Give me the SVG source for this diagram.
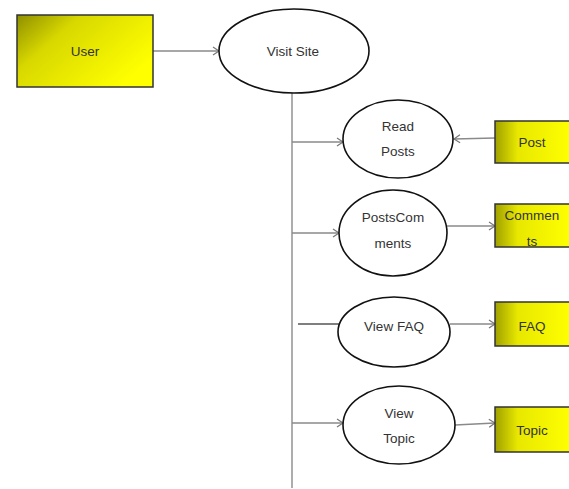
<svg xmlns="http://www.w3.org/2000/svg" width="569" height="489" viewBox="0 0 569 489">
<style>
.ell{fill:#fff;stroke:#111;stroke-width:1.6}
.box{stroke:#333;stroke-width:1.5}
.t{font-family:"Liberation Sans",Arial,sans-serif;font-size:13.5px;fill:#333;text-anchor:middle}
.c{stroke:#8a8a8a;stroke-width:1.4;fill:none}
</style>
<defs>
<linearGradient id="g1" x1="0" y1="0" x2="1" y2="0.6">
<stop offset="0" stop-color="#8f8f00"/>
<stop offset="0.35" stop-color="#d8d800"/>
<stop offset="1" stop-color="#ffff00"/>
</linearGradient>
<linearGradient id="g2" x1="0" y1="0" x2="1" y2="0">
<stop offset="0" stop-color="#a0a000"/>
<stop offset="0.3" stop-color="#e8e800"/>
<stop offset="1" stop-color="#ffff00"/>
</linearGradient>
<marker id="a" markerWidth="10" markerHeight="10" refX="8" refY="5" orient="auto" markerUnits="userSpaceOnUse">
<path d="M2,1 L8,5 L2,9" fill="none" stroke="#777" stroke-width="1.2"/>
</marker>
<clipPath id="cc"><rect x="495" y="204" width="74" height="43"/></clipPath>
</defs>
<g id="connectors">
<line class="c" x1="153" y1="51" x2="219" y2="51" marker-end="url(#a)"/>
<line class="c" x1="292" y1="93" x2="292" y2="488"/>
<line class="c" x1="292" y1="142" x2="343" y2="142" marker-end="url(#a)"/>
<line class="c" x1="495" y1="138" x2="454" y2="139" marker-end="url(#a)"/>
<line class="c" x1="292" y1="233" x2="339" y2="233" marker-end="url(#a)"/>
<line class="c" x1="447" y1="226" x2="495" y2="226" marker-end="url(#a)"/>
<line x1="298" y1="324" x2="339" y2="324" stroke="#555" stroke-width="1.4"/>
<line class="c" x1="450" y1="324" x2="495" y2="324" marker-end="url(#a)"/>
<line class="c" x1="292" y1="423" x2="343" y2="423" marker-end="url(#a)"/>
<line class="c" x1="455" y1="425" x2="495" y2="423" marker-end="url(#a)"/>
</g>
<g id="user">
<rect class="box" x="17" y="15" width="136" height="72" fill="url(#g1)"/>
<text class="t" x="85" y="56">User</text>
</g>
<g id="visit-site">
<ellipse class="ell" cx="294" cy="51" rx="75" ry="42"/>
<text class="t" x="293" y="56">Visit Site</text>
</g>
<g id="read-posts">
<ellipse class="ell" cx="398" cy="139" rx="55" ry="39"/>
<text class="t" x="398" y="131">Read</text>
<text class="t" x="398" y="156">Posts</text>
</g>
<g id="post">
<rect class="box" x="495" y="121" width="76" height="42" fill="url(#g2)"/>
<text class="t" x="532" y="147">Post</text>
</g>
<g id="posts-comments">
<ellipse class="ell" cx="393" cy="233" rx="54" ry="43"/>
<text class="t" x="393" y="222">PostsCom</text>
<text class="t" x="393" y="248">ments</text>
</g>
<g id="comments">
<rect class="box" x="495" y="204" width="76" height="43" fill="url(#g2)"/>
<g clip-path="url(#cc)">
<text class="t" x="532" y="220">Commen</text>
<text class="t" x="532" y="246">ts</text>
</g>
</g>
<g id="view-faq">
<ellipse class="ell" cx="394" cy="332" rx="56" ry="35"/>
<text class="t" x="394" y="331">View FAQ</text>
</g>
<g id="faq">
<rect class="box" x="495" y="302" width="76" height="44" fill="url(#g2)"/>
<text class="t" x="532" y="331">FAQ</text>
</g>
<g id="view-topic">
<ellipse class="ell" cx="399" cy="425" rx="56" ry="39"/>
<text class="t" x="399" y="418">View</text>
<text class="t" x="399" y="443">Topic</text>
</g>
<g id="topic">
<rect class="box" x="495" y="407" width="76" height="45" fill="url(#g2)"/>
<text class="t" x="532" y="435">Topic</text>
</g>
</svg>
